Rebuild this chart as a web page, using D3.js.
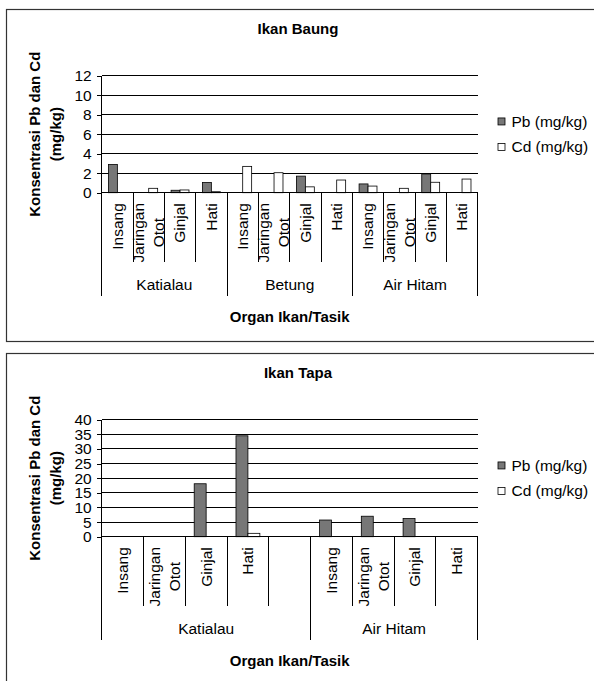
<!DOCTYPE html>
<html>
<head>
<meta charset="utf-8">
<script src="https://cdn.jsdelivr.net/npm/d3@7"></script>
<style>
  body { margin: 0; background: #fff; }
  text { font-family: "Liberation Sans", Arial, sans-serif; fill: #000; }
</style>
</head>
<body>
<svg id="chart"></svg>
<script>
// data
const seriesNames = ["Pb (mg/kg)", "Cd (mg/kg)"];

const baungGroups = ["Katialau", "Betung", "Air Hitam"];
const baungOrgans = [
  ["Insang", "Jaringan Otot", "Ginjal", "Hati"],
  ["Insang", "Jaringan Otot", "Ginjal", "Hati"],
  ["Insang", "Jaringan Otot", "Ginjal", "Hati"]
];
const baungPb = [2.9, 0, 0.25, 1.05, 0, 0, 1.7, 0, 0.9, 0, 1.92, 0];
const baungCd = [0, 0.45, 0.28, 0.1, 2.7, 2.05, 0.6, 1.3, 0.68, 0.45, 1.07, 1.4];
const baungTicks = [0, 2, 4, 6, 8, 10, 12];

const tapaGroups = ["Katialau", "Air Hitam"];
const tapaOrgans = [
  ["Insang", "Jaringan Otot", "Ginjal", "Hati", ""],
  ["Insang", "Jaringan Otot", "Ginjal", "Hati"]
];
const tapaPb = [0, 0, 18.1, 34.5, 0, 5.7, 7.0, 6.2, 0];
const tapaCd = [0, 0, 0, 1.15, 0, 0, 0, 0, 0];
const tapaTicks = [0, 5, 10, 15, 20, 25, 30, 35, 40];

const colors = ["#777777", "#ffffff"];

const width = 594, height = 681;
const svg = d3.select("#chart").attr("width", width).attr("height", height);

function drawChart(boxTop, title, groups, organs, pb, cd, ticks) {
  // layout inside one chart box
  const left = 101.7, right = 477.7;
  const top = 66.7, zero = 183.7;
  const sepEnd = zero + 69.7, groupEnd = zero + 103;
  const fs = 15.5, fsBold = 15;

  const g = svg.append("g").attr("transform", `translate(0,${boxTop})`);

  // outer frame
  g.append("rect")
    .attr("x", 6.5).attr("y", 0.5)
    .attr("width", 620).attr("height", 332)
    .attr("fill", "none").attr("stroke", "#333").attr("stroke-width", 1.2);

  // flatten categories
  const cats = [];
  groups.forEach((grp, gi) => {
    organs[gi].forEach((o, oi) => cats.push({ group: grp, organ: o, first: oi === 0 }));
  });

  const x = d3.scaleBand().domain(d3.range(cats.length)).range([left, right]).padding(0);
  const x1 = d3.scaleBand().domain([0, 1]).range([0, x.bandwidth()])
    .paddingInner(0).paddingOuter(0.75);
  const y = d3.scaleLinear().domain([0, d3.max(ticks)]).range([zero, top]);

  // gridlines
  g.append("g").selectAll("line")
    .data(ticks.filter(t => t > 0))
    .join("line")
    .attr("x1", left).attr("x2", right)
    .attr("y1", d => y(d)).attr("y2", d => y(d))
    .attr("stroke", "#000").attr("stroke-width", 1)
    .attr("shape-rendering", "crispEdges");

  // y axis
  const yAxis = g.append("g")
    .attr("transform", `translate(${left},0)`)
    .call(d3.axisLeft(y).tickValues(ticks).tickSize(5).tickPadding(5).tickSizeOuter(0));
  yAxis.select(".domain").remove();
  yAxis.selectAll(".tick line").attr("stroke", "#000").attr("shape-rendering", "crispEdges");
  yAxis.selectAll(".tick text")
    .style("font-family", "'Liberation Sans', Arial, sans-serif")
    .style("font-size", fs + "px").attr("fill", "#000");

  // bars
  const rows = cats.map((c, i) => ({ i, vals: [pb[i], cd[i]] }));
  g.append("g").selectAll("g")
    .data(rows)
    .join("g")
    .attr("transform", d => `translate(${x(d.i)},0)`)
    .selectAll("rect")
    .data(d => d.vals.map((v, s) => ({ v, s })).filter(e => e.v > 0))
    .join("rect")
    .attr("x", d => x1(d.s))
    .attr("width", x1.bandwidth())
    .attr("y", d => y(d.v))
    .attr("height", d => y(0) - y(d.v))
    .attr("fill", d => colors[d.s])
    .attr("stroke", "#000").attr("stroke-width", 0.8);

  // category axis: baseline, separators and group lines
  const ax = g.append("g").attr("stroke", "#000").attr("shape-rendering", "crispEdges");
  ax.append("line").attr("x1", left).attr("x2", right).attr("y1", zero).attr("y2", zero);
  ax.append("line").attr("x1", left).attr("x2", left).attr("y1", top).attr("y2", groupEnd);
  ax.append("line").attr("x1", right).attr("x2", right).attr("y1", zero).attr("y2", groupEnd);
  cats.forEach((c, i) => {
    if (i === 0) return;
    ax.append("line")
      .attr("x1", x(i)).attr("x2", x(i))
      .attr("y1", zero).attr("y2", c.first ? groupEnd : sepEnd);
  });

  // organ labels, rotated
  cats.forEach((c, i) => {
    if (!c.organ) return;
    const cx = x(i) + x.bandwidth() / 2;
    const lines = c.organ.split(" ");
    if (lines.length === 1) {
      g.append("text")
        .attr("transform", `translate(${cx},${zero + 10.5}) rotate(-90)`)
        .attr("text-anchor", "end").attr("dy", "0.35em")
        .style("font-size", fs + "px")
        .text(c.organ);
    } else {
      const t = g.append("text")
        .attr("transform", `translate(${cx},${zero + 40}) rotate(-90)`)
        .attr("text-anchor", "middle")
        .style("font-size", fs + "px");
      lines.forEach((ln, li) => {
        t.append("tspan").attr("x", 0)
          .attr("y", (li - (lines.length - 1) / 2) * 20)
          .attr("dy", "0.35em").text(ln);
      });
    }
  });

  // group labels
  let start = 0;
  groups.forEach((grp, gi) => {
    const n = organs[gi].length;
    const gx = (x(start) + x(start + n - 1) + x.bandwidth()) / 2;
    g.append("text")
      .attr("x", gx).attr("y", zero + 92).attr("dy", "0.35em")
      .attr("text-anchor", "middle").style("font-size", fs + "px")
      .text(grp);
    start += n;
  });

  // titles
  g.append("text")
    .attr("x", 298).attr("y", 20).attr("dy", "0.35em")
    .attr("text-anchor", "middle").style("font-size", fsBold + "px").style("font-weight", "bold")
    .text(title);

  g.append("text")
    .attr("x", (left + right) / 2).attr("y", zero + 124).attr("dy", "0.35em")
    .attr("text-anchor", "middle").style("font-size", fsBold + "px").style("font-weight", "bold")
    .text("Organ Ikan/Tasik");

  const yMid = (top + zero) / 2;
  const yt = g.append("text")
    .attr("transform", `translate(45,${yMid}) rotate(-90)`)
    .attr("text-anchor", "middle")
    .style("font-size", fsBold + "px").style("font-weight", "bold");
  yt.append("tspan").attr("x", 0).attr("y", -10.5).attr("dy", "0.35em").text("Konsentrasi Pb dan Cd");
  yt.append("tspan").attr("x", 0).attr("y", 10.5).attr("dy", "0.35em").text("(mg/kg)");

  // legend
  const leg = g.append("g").selectAll("g")
    .data(seriesNames)
    .join("g")
    .attr("transform", (d, i) => `translate(498,${yMid + (i - 0.5) * 25.5})`);
  leg.append("rect")
    .attr("x", 0).attr("y", -3.5).attr("width", 7).attr("height", 7)
    .attr("fill", (d, i) => colors[i]).attr("stroke", "#000").attr("stroke-width", 0.8);
  leg.append("text")
    .attr("x", 13.5).attr("dy", "0.35em")
    .style("font-size", fs + "px")
    .text(d => d);
}

drawChart(9, "Ikan Baung", baungGroups, baungOrgans, baungPb, baungCd, baungTicks);
drawChart(353, "Ikan Tapa", tapaGroups, tapaOrgans, tapaPb, tapaCd, tapaTicks);
</script>
</body>
</html>
